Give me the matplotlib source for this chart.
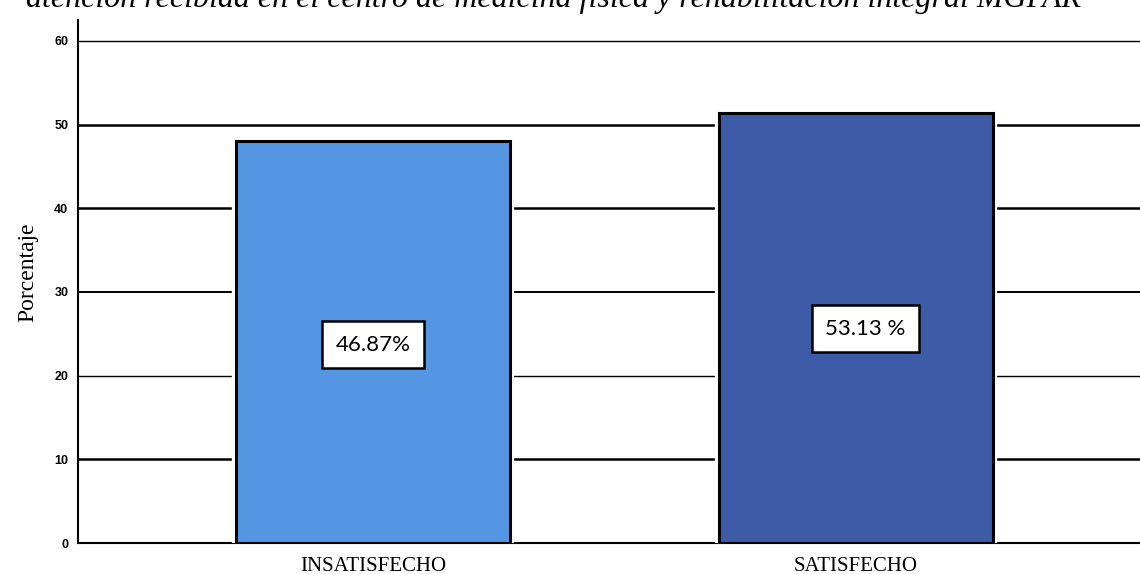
import matplotlib
matplotlib.use("Agg")
import matplotlib.pyplot as plt
import matplotlib.patheffects as pe

categories = ["INSATISFECHO", "SATISFECHO"]
values = [48.0, 51.4]
labels = ["46.87%", "53.13 %"]
label_y = [23.7, 25.6]
label_dx = [0.0, 0.02]
colors = ["#5596E2", "#3E5BA8"]
yticks = [0, 10, 20, 30, 40, 50, 60]
grid_w = {10: 1.8, 20: 1.0, 30: 1.4, 40: 1.8, 50: 1.8, 60: 1.0}
title = "atención recibida en el centro de medicina física y rehabilitación integral MGFAR"

fig = plt.figure(figsize=(11.4, 5.74), dpi=100)
ax = fig.add_axes([78/1140, 1 - 543/574, (1140-78)/1140, (543-20)/574])

for t in yticks[1:]:
    ax.axhline(t, color="black", lw=grid_w[t], zorder=1)

x = list(range(len(categories)))
bars = ax.bar(x, values, width=0.567, color=colors, edgecolor="black", linewidth=2.2, zorder=3)
for b in bars:
    b.set_path_effects([pe.Stroke(linewidth=6, foreground="white"), pe.Normal()])

for i, (lab, ly) in enumerate(zip(labels, label_y)):
    ax.text(x[i] + label_dx[i], ly, lab, ha="center", va="center", fontsize=16,
            family="Lato", zorder=5,
            bbox=dict(boxstyle="square,pad=0.6", fc="white", ec="black", lw=1.8))

ax.set_xlim(-0.611, 1.588)
ax.set_ylim(0, 62.5)
ax.set_yticks(yticks)
ax.set_yticklabels([str(t) for t in yticks], fontsize=9, fontweight="bold", family="Liberation Sans")
ax.set_xticks(x)
ax.set_xticklabels(categories, fontsize=15, family="Liberation Serif")
ax.tick_params(axis="y", length=0, pad=7)
ax.tick_params(axis="x", length=0, pad=10)
ax.set_ylabel("Porcentaje", fontsize=17, family="Liberation Serif")
ax.yaxis.set_label_coords(-0.037, 0.518)
for s in ["top", "right"]:
    ax.spines[s].set_visible(False)
ax.spines["left"].set_linewidth(1.5)
ax.spines["bottom"].set_linewidth(1.5)

fig.text(0.5 * (28 + 1080) / 1140, 1 - 7/574, title, ha="center", va="baseline",
         fontsize=23, style="italic", family="Liberation Serif")

fig.savefig("out.png", dpi=100)
